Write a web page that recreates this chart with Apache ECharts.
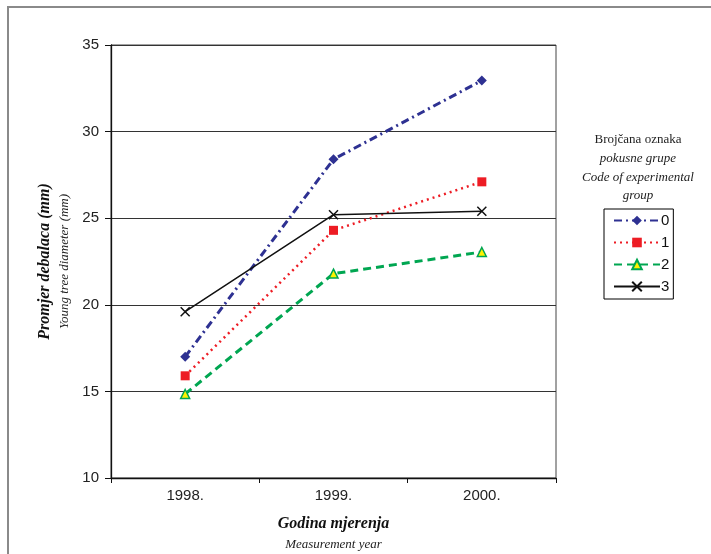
<!DOCTYPE html>
<html>
<head>
<meta charset="utf-8">
<script src="https://cdn.jsdelivr.net/npm/echarts@6/dist/echarts.min.js"></script>
<style>
  html, body { margin: 0; padding: 0; background: #fff; }
  #chart { width: 711px; height: 554px; }
</style>
</head>
<body>
<div id="chart"></div>
<script>
// podaci s grafa
const years = ['1998.', '1999.', '2000.']
const group0 = [17.0, 28.4, 32.95]
const group1 = [15.9, 24.3, 27.1]
const group2 = [14.85, 21.8, 23.05]
const group3 = [19.6, 25.2, 25.4]
const groupNames = ['0', '1', '2', '3']

const chart = echarts.init(document.getElementById('chart'))

const option = {
  animation: false,
  backgroundColor: '#fff',
  textStyle: { fontFamily: 'Liberation Sans, Arial, sans-serif' },
  graphic: [
    {
      type: 'rect',
      shape: { x: 8, y: 7, width: 720, height: 560 },
      style: { fill: 'none', stroke: '#8a8a8a', lineWidth: 2 }
    },
    {
      type: 'group',
      left: 582,
      top: 133,
      children: [
        { type: 'text', x: 58, y: 0, style: { text: 'Brojčana oznaka', font: '13px "Liberation Serif", serif', fill: '#222', textAlign: 'center' } },
        { type: 'text', x: 58, y: 19, style: { text: 'pokusne grupe', font: 'italic 13px "Liberation Serif", serif', fill: '#222', textAlign: 'center' } },
        { type: 'text', x: 58, y: 38, style: { text: 'Code of experimental', font: 'italic 13px "Liberation Serif", serif', fill: '#222', textAlign: 'center' } },
        { type: 'text', x: 58, y: 56, style: { text: 'group', font: 'italic 13px "Liberation Serif", serif', fill: '#222', textAlign: 'center' } }
      ]
    }
  ],
  legend: {
    orient: 'vertical',
    left: 604,
    top: 209,
    data: groupNames,
    itemWidth: 46,
    itemHeight: 12,
    itemGap: 7,
    padding: [4, 4, 5, 9],
    borderColor: '#000',
    borderWidth: 1,
    textStyle: { fontSize: 15, color: '#111', padding: [0, 0, 0, -4] }
  },
  grid: {
    left: 111,
    right: 155,
    top: 45,
    bottom: 76,
    outerBoundsMode: 'none',
    containLabel: false,
    show: true,
    borderColor: '#444',
    borderWidth: 1
  },
  xAxis: {
    type: 'category',
    data: years,
    boundaryGap: true,
    axisLine: { lineStyle: { color: '#111', width: 1.3 } },
    axisTick: { show: true, length: 5, lineStyle: { color: '#111' } },
    axisLabel: { fontSize: 15, color: '#222', margin: 10 },
    name: '{a|Godina mjerenja}\n{b|Measurement year}',
    nameLocation: 'middle',
    nameGap: 35,
    nameTextStyle: {
      lineHeight: 20,
      rich: {
        a: { fontFamily: 'Liberation Serif, serif', fontStyle: 'italic', fontWeight: 'bold', fontSize: 16, color: '#111', lineHeight: 22 },
        b: { fontFamily: 'Liberation Serif, serif', fontStyle: 'italic', fontSize: 13, color: '#222', lineHeight: 20 }
      }
    }
  },
  yAxis: {
    type: 'value',
    min: 10,
    max: 35,
    interval: 5,
    axisLine: { show: true, lineStyle: { color: '#111', width: 1.3 } },
    axisTick: { show: true, length: 6, lineStyle: { color: '#111' } },
    axisLabel: { fontSize: 15, color: '#222', margin: 12 },
    splitLine: { lineStyle: { color: '#333', width: 1 } },
    name: '{a|Promjer debalaca (mm)}\n{b|Young tree diameter (mm)}',
    nameLocation: 'middle',
    nameRotate: 90,
    nameGap: 32,
    nameTextStyle: {
      rich: {
        a: { fontFamily: 'Liberation Serif, serif', fontStyle: 'italic', fontWeight: 'bold', fontSize: 16, color: '#111', lineHeight: 20 },
        b: { fontFamily: 'Liberation Serif, serif', fontStyle: 'italic', fontSize: 13, color: '#222', lineHeight: 20 }
      }
    }
  },
  series: [
    {
      name: '0',
      type: 'line',
      data: group0,
      symbol: 'diamond',
      symbolSize: 10,
      itemStyle: { color: '#2E3192' },
      lineStyle: { color: '#2E3192', width: 3, type: [8, 4, 2, 4] }
    },
    {
      name: '1',
      type: 'line',
      data: group1,
      symbol: 'rect',
      symbolSize: 9,
      itemStyle: { color: '#ED1C24' },
      lineStyle: { color: '#ED1C24', width: 2.5, type: [2, 4] }
    },
    {
      name: '2',
      type: 'line',
      data: group2,
      symbol: 'triangle',
      symbolSize: 9,
      itemStyle: { color: '#FFF200', borderColor: '#00A651', borderWidth: 1.5 },
      lineStyle: { color: '#00A651', width: 3, type: [8, 5] }
    },
    {
      name: '3',
      type: 'line',
      data: group3,
      symbol: 'path://M0,0L10,10M10,0L0,10',
      symbolSize: 9,
      itemStyle: { color: 'none', borderColor: '#111', borderWidth: 1.5 },
      lineStyle: { color: '#111', width: 1.5, type: 'solid' }
    }
  ]
}

chart.setOption(option)
</script>
</body>
</html>
